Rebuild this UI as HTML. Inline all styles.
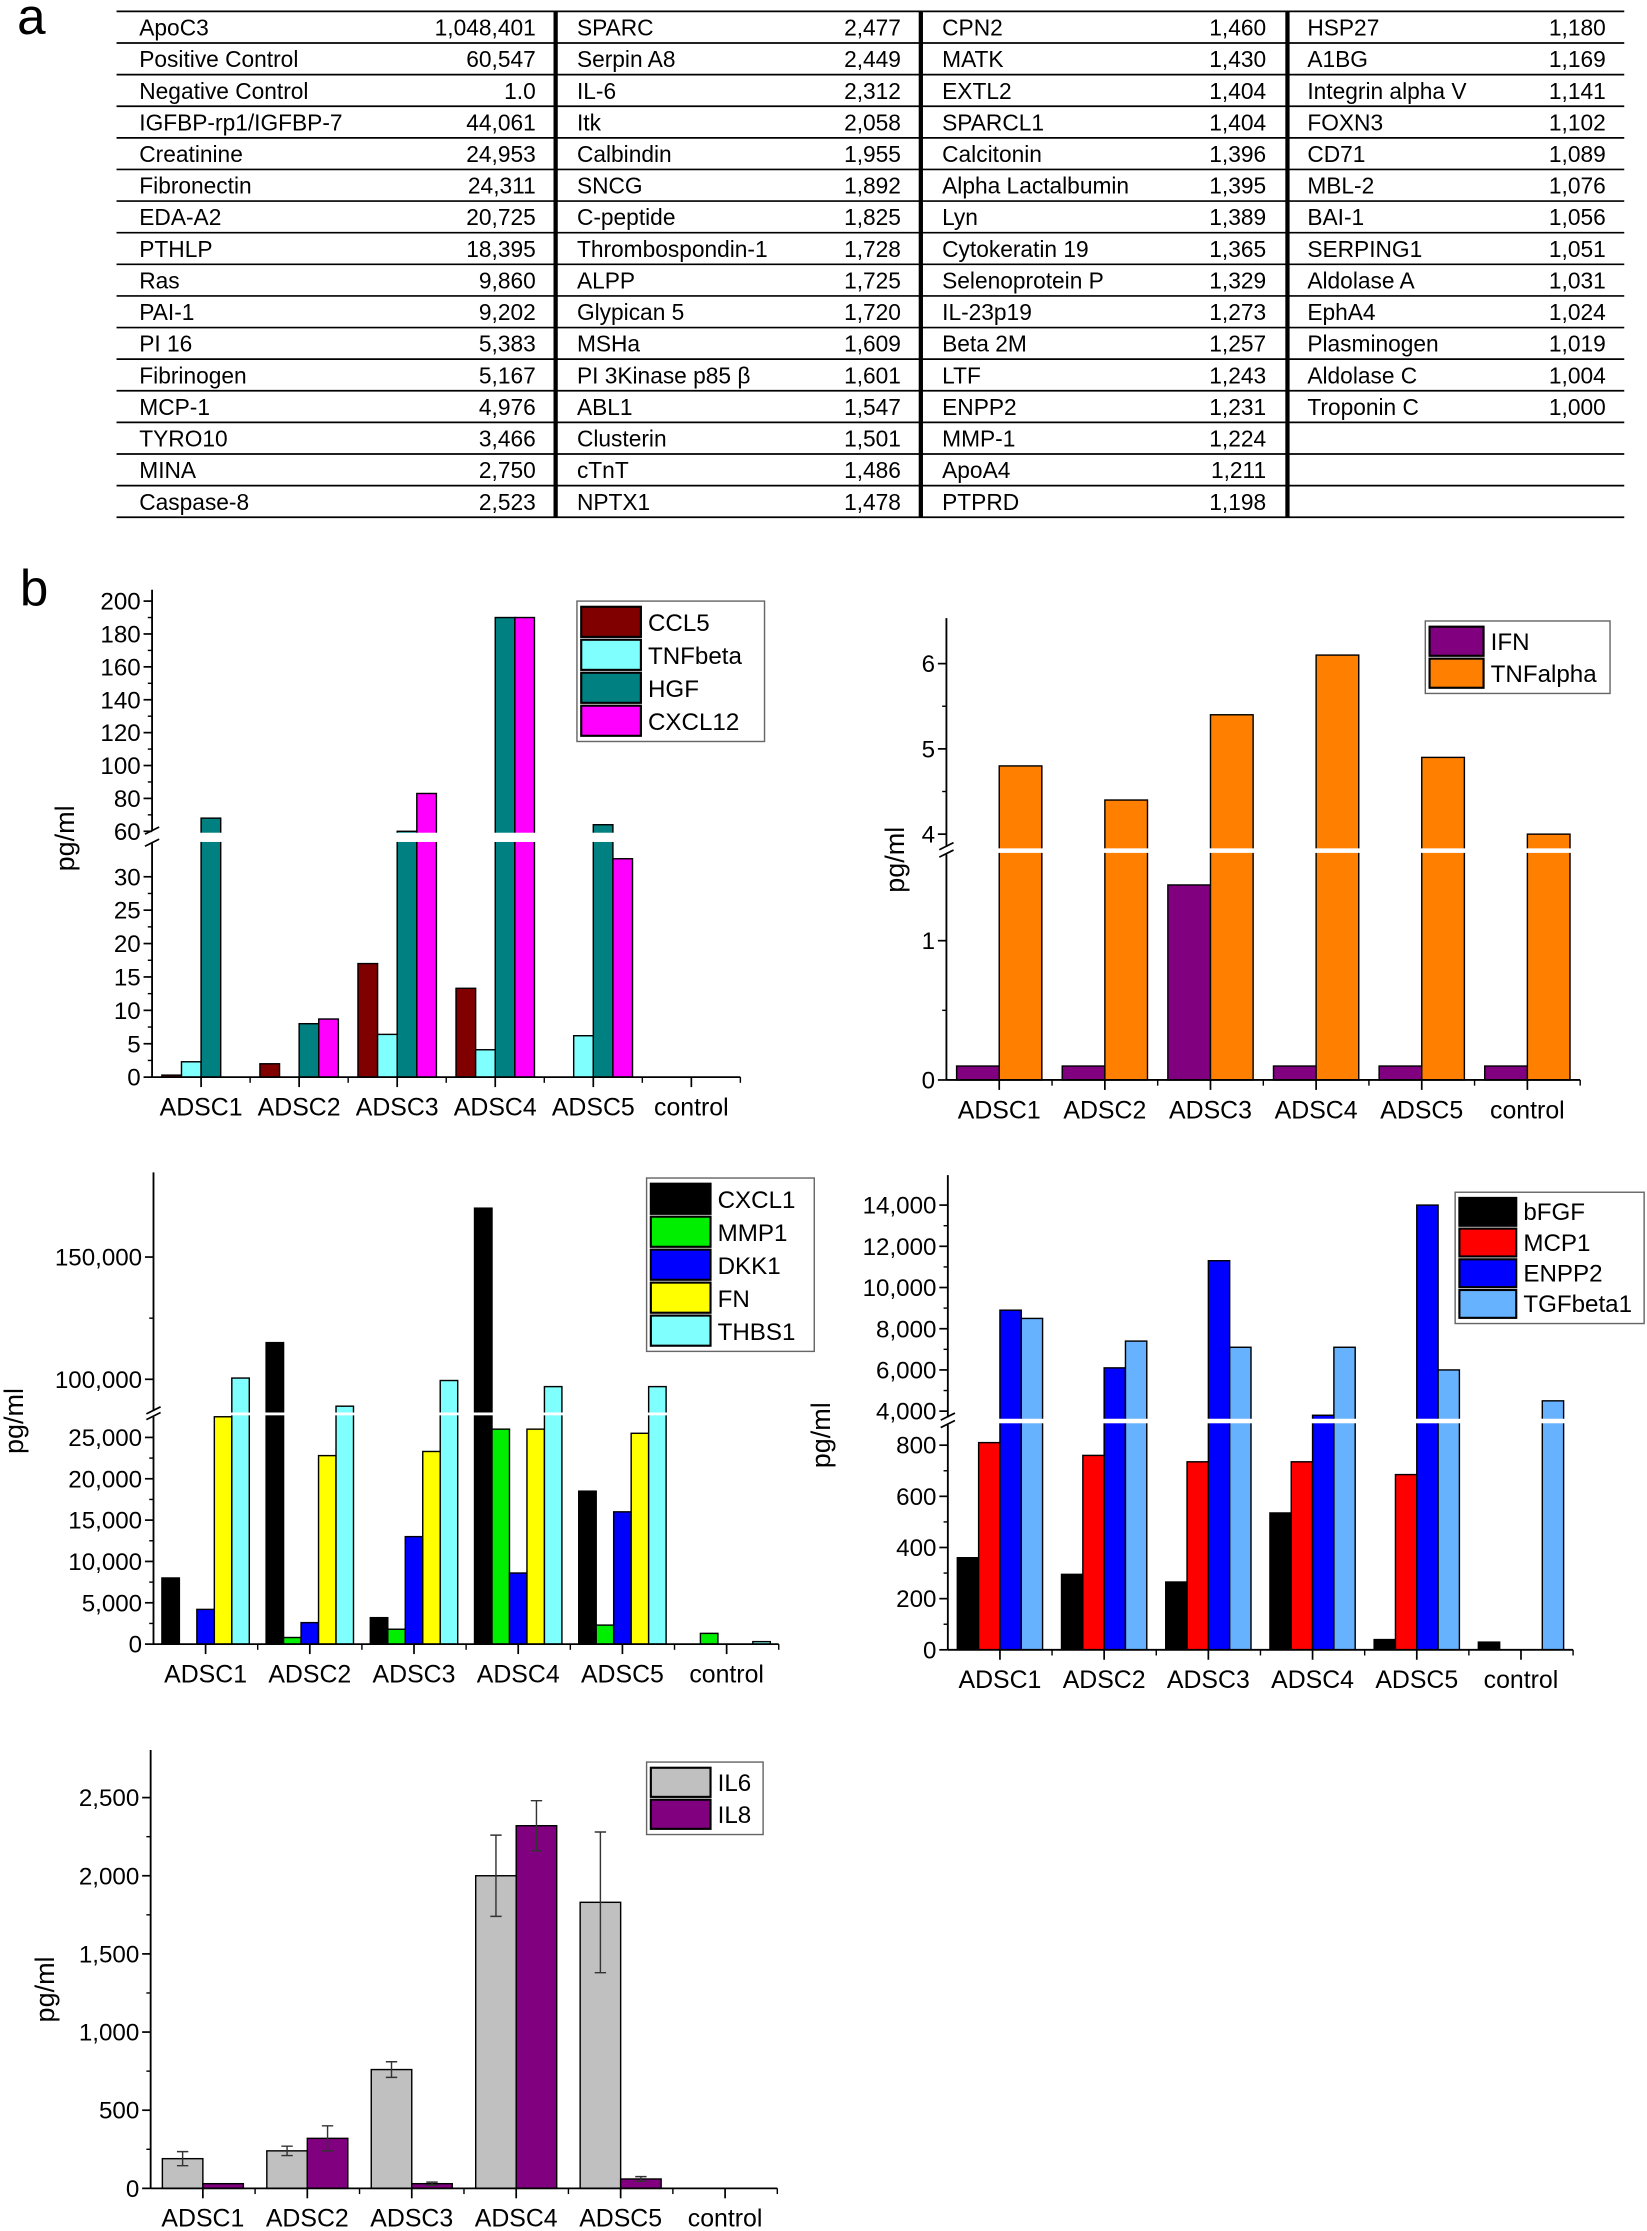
<!DOCTYPE html>
<html><head><meta charset="utf-8"><style>
html,body{margin:0;padding:0;background:#fff;}
svg{display:block;font-family:"Liberation Sans",Arial,sans-serif;}
</style></head><body>
<svg id="fig" width="1647" height="2231" viewBox="0 0 1159 1570" xmlns="http://www.w3.org/2000/svg">
<rect width="1159" height="1570" fill="#fff"/>
<text x="12" y="24" font-size="36">a</text>
<text x="14" y="426" font-size="36">b</text>
<g id="table"></g>
<g id="charts"></g>
</svg>
<script>
const NS="http://www.w3.org/2000/svg";
function mk(tag,attrs,parent,txt){const e=document.createElementNS(NS,tag);for(const k in attrs)e.setAttribute(k,attrs[k]);if(txt!==undefined)e.textContent=txt;parent.appendChild(e);return e;}

// ---------- TABLE DATA ----------
const tableCol1=[["ApoC3","1,048,401"],["Positive Control","60,547"],["Negative Control","1.0"],["IGFBP-rp1/IGFBP-7","44,061"],["Creatinine","24,953"],["Fibronectin","24,311"],["EDA-A2","20,725"],["PTHLP","18,395"],["Ras","9,860"],["PAI-1","9,202"],["PI 16","5,383"],["Fibrinogen","5,167"],["MCP-1","4,976"],["TYRO10","3,466"],["MINA","2,750"],["Caspase-8","2,523"]];
const tableCol2=[["SPARC","2,477"],["Serpin A8","2,449"],["IL-6","2,312"],["Itk","2,058"],["Calbindin","1,955"],["SNCG","1,892"],["C-peptide","1,825"],["Thrombospondin-1","1,728"],["ALPP","1,725"],["Glypican 5","1,720"],["MSHa","1,609"],["PI 3Kinase p85 β","1,601"],["ABL1","1,547"],["Clusterin","1,501"],["cTnT","1,486"],["NPTX1","1,478"]];
const tableCol3=[["CPN2","1,460"],["MATK","1,430"],["EXTL2","1,404"],["SPARCL1","1,404"],["Calcitonin","1,396"],["Alpha Lactalbumin","1,395"],["Lyn","1,389"],["Cytokeratin 19","1,365"],["Selenoprotein P","1,329"],["IL-23p19","1,273"],["Beta 2M","1,257"],["LTF","1,243"],["ENPP2","1,231"],["MMP-1","1,224"],["ApoA4","1,211"],["PTPRD","1,198"]];
const tableCol4=[["HSP27","1,180"],["A1BG","1,169"],["Integrin alpha V","1,141"],["FOXN3","1,102"],["CD71","1,089"],["MBL-2","1,076"],["BAI-1","1,056"],["SERPING1","1,051"],["Aldolase A","1,031"],["EphA4","1,024"],["Plasminogen","1,019"],["Aldolase C","1,004"],["Troponin C","1,000"]];

(function(){
 const g=document.getElementById('table');
 const top=8,rh=22.25,x0=82,x1=1143;
 for(let i=0;i<=16;i++){const l=mk('line',{x1:x0,x2:x1,y1:top+i*rh,y2:top+i*rh,stroke:'#000','stroke-width':1.2},g);
  }
 [391,648,906].forEach(x=>{const l=mk('line',{x1:x,x2:x,y1:top,y2:top+16*rh,stroke:'#000','stroke-width':3},g);
  });
 const cols=[[tableCol1,98,377],[tableCol2,406,634],[tableCol3,663,891],[tableCol4,920,1130]];
 cols.forEach(([rows,nx,vx])=>{rows.forEach((r,i)=>{const y=top+i*rh+17;
  const t=mk('text',{x:nx,y:y,'font-size':16},g,r[0]);
  const v=mk('text',{x:vx,y:y,'font-size':16,'text-anchor':'end'},g,r[1]);});});
})();

// ---------- CHART DATA ----------
const categories=["ADSC1","ADSC2","ADSC3","ADSC4","ADSC5","control"];
// chart 1
const c1Series=["CCL5","TNFbeta","HGF","CXCL12"];
const c1CCL5=[0.3,2,17,13.3,0,0];
const c1TNFbeta=[2.3,0,6.4,4.1,6.2,0];
const c1HGF=[68,8,60,190,64,0];
const c1CXCL12=[0,8.7,83,190,32.7,0];
const c1LowerTicks=[0,5,10,15,20,25,30];
const c1UpperTicks=[60,80,100,120,140,160,180,200];
// chart 2
const c2Series=["IFN","TNFalpha"];
const c2IFN=[0.1,0.1,1.4,0.1,0.1,0.1];
const c2TNFalpha=[4.8,4.4,5.4,6.1,4.9,4.0];
const c2LowerTicks=[0,1];
const c2UpperTicks=[4,5,6];
// chart 3
const c3Series=["CXCL1","MMP1","DKK1","FN","THBS1"];
const c3CXCL1=[8000,115000,3200,170000,18500,0];
const c3MMP1=[0,800,1800,26000,2300,1300];
const c3DKK1=[4200,2600,13000,8600,16000,0];
const c3FN=[27500,22800,23300,26000,25500,0];
const c3THBS1=[100500,89000,99500,97000,97000,300];
const c3LowerTicks=[0,5000,10000,15000,20000,25000];
const c3UpperTicks=[100000,150000];
// chart 4
const c4Series=["bFGF","MCP1","ENPP2","TGFbeta1"];
const c4bFGF=[360,295,265,535,40,30];
const c4MCP1=[810,760,735,735,685,0];
const c4ENPP2=[8900,6100,11300,3800,14000,0];
const c4TGFbeta1=[8500,7400,7100,7100,6000,4500];
const c4LowerTicks=[0,200,400,600,800];
const c4UpperTicks=[4000,6000,8000,10000,12000,14000];
// chart 5
const c5Series=["IL6","IL8"];
const c5IL6=[190,240,760,2000,1830,0];
const c5IL6Err=[45,30,50,260,450,0];
const c5IL8=[30,320,30,2320,60,0];
const c5IL8Err=[0,80,10,160,15,0];
const c5Ticks=[0,500,1000,1500,2000,2500];

function fmt(v){return v>=1000?v.toLocaleString('en-US'):String(v);}

function drawChart(cfg){
 const g=mk('g',{},document.getElementById('charts'));
 
 
 const segs=cfg.segs;
 function yOf(v){
  const L=segs[0];
  if(v<=L.hi||segs.length===1) return L.y0+(Math.min(v,L.hi)-L.lo)*(L.y1-L.y0)/(L.hi-L.lo);
  const U=segs[1];
  if(v<U.lo) return L.y1;
  return U.y0+(v-U.lo)*(U.y1-U.y0)/(U.hi-U.lo);
 }
 const ax=cfg.ax, xe=cfg.xe, gw=(xe-ax)/categories.length, base=yOf(0);
 const ns=cfg.series.length, bw=cfg.bw;
 cfg.data.forEach((arr,si)=>{arr.forEach((v,ci)=>{
  if(v<=0) return;
  const cx=ax+gw*(ci+0.5), x=cx-ns*bw/2+si*bw, y=yOf(v);
  const r=mk('rect',{x:x,y:y,width:bw,height:base-y,fill:cfg.colors[si],stroke:'#000','stroke-width':1},g);
  
  
  if(cfg.err){const e=cfg.err[si][ci];if(e>0){const ye=yOf(v+e),yl=yOf(Math.max(0,v-e));
   const el=mk('path',{d:`M${x+bw/2},${ye}V${yl}M${x+bw/2-4},${ye}h8M${x+bw/2-4},${yl}h8`,stroke:'#333','stroke-width':1,fill:'none'},g);
   }}
 });});
 if(segs.length>1){
  const gy0=segs[1].y0+1, gy1=segs[0].y1-1;
  const w=mk('rect',{x:ax+2,y:gy0,width:xe-ax,height:Math.max(2,gy1-gy0),fill:'#fff'},g);
  
 }
 const top=segs[segs.length-1].y1;
 if(segs.length>1){
  const a1=mk('line',{x1:ax,x2:ax,y1:base,y2:segs[0].y1,stroke:'#000','stroke-width':1.3},g);
  
  const a2=mk('line',{x1:ax,x2:ax,y1:segs[1].y0,y2:top-8,stroke:'#000','stroke-width':1.3},g);
  
  const bm=mk('path',{d:`M${ax-5},${segs[1].y0+2}l10,-5M${ax-5},${segs[0].y1+2}l10,-5`,stroke:'#000','stroke-width':1.2},g);
  
 } else {
  const a=mk('line',{x1:ax,x2:ax,y1:base,y2:top-6,stroke:'#000','stroke-width':1.3},g);
  
 }
 cfg.ticks.forEach((tk,si)=>{
  const ys=v=>(si===0)?segs[0].y0+(v-segs[0].lo)*(segs[0].y1-segs[0].y0)/(segs[0].hi-segs[0].lo):yOf(v);
  tk.forEach((v,i)=>{const y=ys(v);
   const l=mk('line',{x1:ax-6,x2:ax,y1:y,y2:y,stroke:'#000','stroke-width':1.2},g);
   
   const t=mk('text',{x:ax-8,y:y+6,'font-size':17,'text-anchor':'end'},g,fmt(v));
   
   if(i<tk.length-1){const ym=(y+ys(tk[i+1]))/2;
    const m=mk('line',{x1:ax-3,x2:ax,y1:ym,y2:ym,stroke:'#000','stroke-width':1},g);
    }
  });
 });
 const xa=mk('line',{x1:ax,x2:xe,y1:base,y2:base,stroke:'#000','stroke-width':1.3},g);
 
 categories.forEach((c,i)=>{const cx=ax+gw*(i+0.5);
  const t=mk('line',{x1:cx,x2:cx,y1:base,y2:base+7,stroke:'#000','stroke-width':1.2},g);
  
  const b=mk('line',{x1:ax+gw*(i+1),x2:ax+gw*(i+1),y1:base,y2:base+4,stroke:'#000','stroke-width':1},g);
  
  const l=mk('text',{x:cx,y:base+27,'font-size':17.5,'text-anchor':'middle'},g,c);
  
 });
 const yt=mk('text',{x:cfg.ytx,y:cfg.yty,'font-size':19,'text-anchor':'middle',transform:`rotate(-90 ${cfg.ytx} ${cfg.yty})`},g,'pg/ml');
 
 const L=cfg.leg;
 const lb=mk('rect',{x:L.x,y:L.y,width:L.w,height:L.rh*ns+6,fill:'#fff',stroke:'#666','stroke-width':1},g);
 
 cfg.series.forEach((s,i)=>{const y=L.y+3+i*L.rh;
  const sw=mk('rect',{x:L.x+3,y:y+1,width:L.sw,height:L.rh-2,fill:cfg.colors[i],stroke:'#000','stroke-width':1.5},g);
  
  const t=mk('text',{x:L.x+L.sw+8,y:y+L.rh-5,'font-size':17},g,s);
  
 });
}

drawChart({name:'chart-ccl5-hgf',series:c1Series,data:[c1CCL5,c1TNFbeta,c1HGF,c1CXCL12],colors:['#800000','#80ffff','#008080','#ff00ff'],
 ax:107,xe:521,bw:13.8,segs:[{lo:0,hi:35,y0:758,y1:593.5},{lo:60,hi:200,y0:585,y1:423}],ticks:[c1LowerTicks,c1UpperTicks],
 ytx:52,yty:590,leg:{x:406,y:423,w:132,rh:23.2,sw:42}});
drawChart({name:'chart-ifn-tnfalpha',series:c2Series,data:[c2IFN,c2TNFalpha],colors:['#800080','#ff8000'],
 ax:666,xe:1112,bw:30,segs:[{lo:0,hi:1.62,y0:760,y1:601.2},{lo:3.85,hi:6.4,y0:596,y1:443}],ticks:[c2LowerTicks,c2UpperTicks],
 ytx:636,yty:605,leg:{x:1003,y:437,w:130,rh:22.5,sw:38}});
drawChart({name:'chart-cxcl1-thbs1',series:c3Series,data:[c3CXCL1,c3MMP1,c3DKK1,c3FN,c3THBS1],colors:['#000000','#00ee00','#0000ff','#ffff00','#80ffff'],
 ax:108,xe:548,bw:12.3,segs:[{lo:0,hi:27500,y0:1157,y1:997},{lo:87000,hi:180000,y0:993,y1:833}],ticks:[c3LowerTicks,c3UpperTicks],
 ytx:16,yty:1000,leg:{x:455,y:829,w:118,rh:23.2,sw:42}});
drawChart({name:'chart-bfgf-tgfbeta1',series:c4Series,data:[c4bFGF,c4MCP1,c4ENPP2,c4TGFbeta1],colors:['#000000','#ff0000','#0000ff','#66b2ff'],
 ax:667,xe:1107,bw:15,segs:[{lo:0,hi:880,y0:1161,y1:1002.6},{lo:3700,hi:14900,y0:997.4,y1:835}],ticks:[c4LowerTicks,c4UpperTicks],
 ytx:584,yty:1010,leg:{x:1024,y:839,w:133,rh:21.6,sw:40}});
drawChart({name:'chart-il6-il8',series:c5Series,data:[c5IL6,c5IL8],err:[c5IL6Err,c5IL8Err],colors:['#c0c0c0','#800080'],
 ax:106,xe:547,bw:28.5,segs:[{lo:0,hi:2750,y0:1540,y1:1237.5}],ticks:[c5Ticks],
 ytx:38,yty:1400,leg:{x:455,y:1240,w:82,rh:22.5,sw:42}});
</script>
</body></html>
